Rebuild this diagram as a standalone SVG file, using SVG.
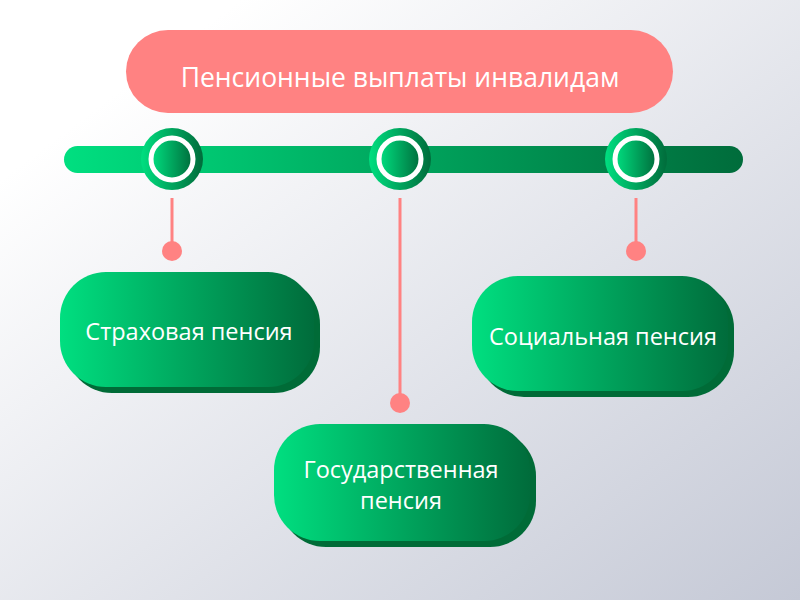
<svg xmlns="http://www.w3.org/2000/svg" width="800" height="600" viewBox="0 0 800 600">
<defs>
<linearGradient id="bg" x1="0" y1="0" x2="1" y2="1">
<stop offset="0.15" stop-color="#ffffff"/>
<stop offset="1" stop-color="#c5c9d6"/>
</linearGradient>
<linearGradient id="gr" x1="0" y1="0" x2="1" y2="0">
<stop offset="0" stop-color="#00df80"/>
<stop offset="1" stop-color="#006c3b"/>
</linearGradient>
<linearGradient id="grBar" gradientUnits="userSpaceOnUse" x1="64" y1="0" x2="743" y2="0">
<stop offset="0" stop-color="#00df80"/>
<stop offset="1" stop-color="#006c3b"/>
</linearGradient>
<style>
.lbl{font-family:"Open Sans","Noto Sans","Liberation Sans",sans-serif;fill:#ffffff;text-anchor:middle}
.conn{stroke:#ff8282;stroke-width:3;fill:none}
.dot{fill:#ff8282}
.shadow{fill:#006b37}
.face{fill:url(#gr)}
.ring{fill:url(#gr);stroke:#ffffff;stroke-width:5}
</style>
</defs>
<rect width="800" height="600" fill="url(#bg)"/>

<g id="title">
<rect x="126" y="30" width="547" height="83" rx="42" fill="#ff8282"/>
<text class="lbl" x="400" y="87" font-size="26.5">Пенсионные выплаты инвалидам</text>
</g>

<g id="connectors">
<line class="conn" x1="172" y1="198" x2="172" y2="250"/>
<circle class="dot" cx="172" cy="251" r="10"/>
<line class="conn" x1="400" y1="198" x2="400" y2="402"/>
<circle class="dot" cx="400" cy="403" r="10"/>
<line class="conn" x1="636" y1="198" x2="636" y2="250"/>
<circle class="dot" cx="636" cy="251" r="10"/>
</g>

<g id="timeline">
<rect x="64" y="146" width="679" height="27" rx="13.5" fill="url(#grBar)"/>
<circle cx="172" cy="159" r="31" fill="url(#gr)"/>
<circle class="ring" cx="172" cy="159" r="21"/>
<circle cx="400" cy="159" r="31" fill="url(#gr)"/>
<circle class="ring" cx="400" cy="159" r="21"/>
<circle cx="636" cy="159" r="31" fill="url(#gr)"/>
<circle class="ring" cx="636" cy="159" r="21"/>
</g>

<g id="node-insurance">
<rect class="shadow" x="66" y="278" width="254" height="115" rx="46"/>
<rect class="face" x="60" y="272" width="254" height="115" rx="46"/>
<text class="lbl" x="189" y="340" font-size="23.5">Страховая пенсия</text>
</g>

<g id="node-social">
<rect class="shadow" x="478" y="282" width="256" height="115" rx="46"/>
<rect class="face" x="472" y="276" width="256" height="115" rx="46"/>
<text class="lbl" x="603" y="345" font-size="23.5">Социальная пенсия</text>
</g>

<g id="node-state">
<rect class="shadow" x="280" y="430" width="256" height="117" rx="46"/>
<rect class="face" x="274" y="424" width="256" height="117" rx="46"/>
<text class="lbl" x="401" y="478" font-size="23.5">Государственная</text>
<text class="lbl" x="401" y="509" font-size="23.5">пенсия</text>
</g>
</svg>
